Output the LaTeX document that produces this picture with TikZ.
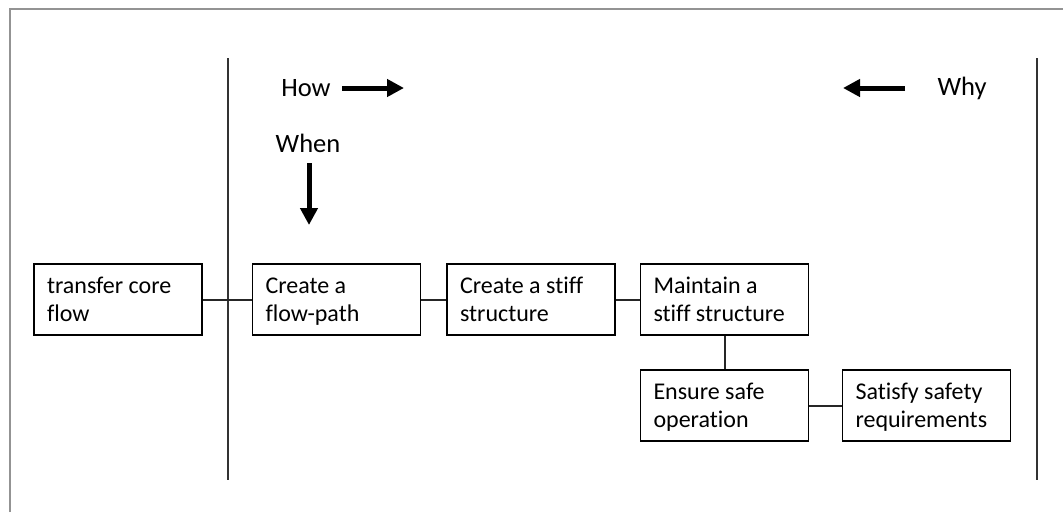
\documentclass[tikz,border=0pt]{standalone}
\usepackage{fontspec}
\setmainfont{Carlito}[Ligatures=NoCommon]
\usetikzlibrary{arrows.meta}
\begin{document}
\begin{tikzpicture}[x=1pt,y=-1pt,
  fbox/.style={draw=black, line width=1.8pt, minimum width=168pt, minimum height=71pt,
    text width=142pt, inner xsep=13pt, inner ysep=0pt, align=flush left,
    font=\fontsize{24}{28}\selectfont,
    execute at begin node=\rule{0pt}{23.6pt}, execute at end node=\strut},
  conn/.style={draw=black!85, line width=2pt},
  sep/.style={draw=black!80, line width=2pt},
  lbl/.style={font=\fontsize{26.5}{30}\selectfont, inner sep=0pt},
  bigarrow/.style={line width=5pt, -{Triangle[length=17pt,width=17pt]}}]
\useasboundingbox (0,0) rectangle (1063,512);
\fill[white] (0,0) rectangle (1063,512);
\draw[gray!85, line width=1.8pt] (10,512) -- (10,9) -- (1063,9);
% separators
\coordinate (l1) at (228,58);
\coordinate (l2) at (228,480);
\coordinate (r1) at (1037,58);
\coordinate (r2) at (1037,480);
\draw[sep] (l1) -- (l2);
\draw[sep] (r1) -- (r2);
% boxes
\node[fbox] (tcf) at (118,299.5) {transfer core\\flow};
\node[fbox] (cfp) at (336.5,299.5) {Create a\\flow-path};
\node[fbox] (css) at (531,299.5) {Create a stiff\\structure};
\node[fbox] (mss) at (724.5,299.5) {Maintain a\\stiff structure};
\node[fbox] (eso) at (724.5,405.5) {Ensure safe\\operation};
\node[fbox] (ssr) at (926.5,405.5) {Satisfy safety\\requirements};
\draw[conn] (tcf) -- (cfp);
\draw[conn] (cfp) -- (css);
\draw[conn] (css) -- (mss);
\draw[conn] (mss) -- (eso);
\draw[conn] (eso) -- (ssr);
% labels
\node[lbl] (how) at (306,88) {How};
\node[lbl] (when) at (308,143) {When};
\node[lbl] (why) at (962,88) {Why};
\coordinate (howa) at (342,88);
\coordinate (howb) at (404,88);
\coordinate (whya) at (905,88);
\coordinate (whyb) at (843,88);
\coordinate (whena) at (309,163);
\coordinate (whenb) at (309,225);
\draw[bigarrow] (howa) -- (howb);
\draw[bigarrow] (whya) -- (whyb);
\draw[bigarrow] (whena) -- (whenb);
\end{tikzpicture}
\end{document}
